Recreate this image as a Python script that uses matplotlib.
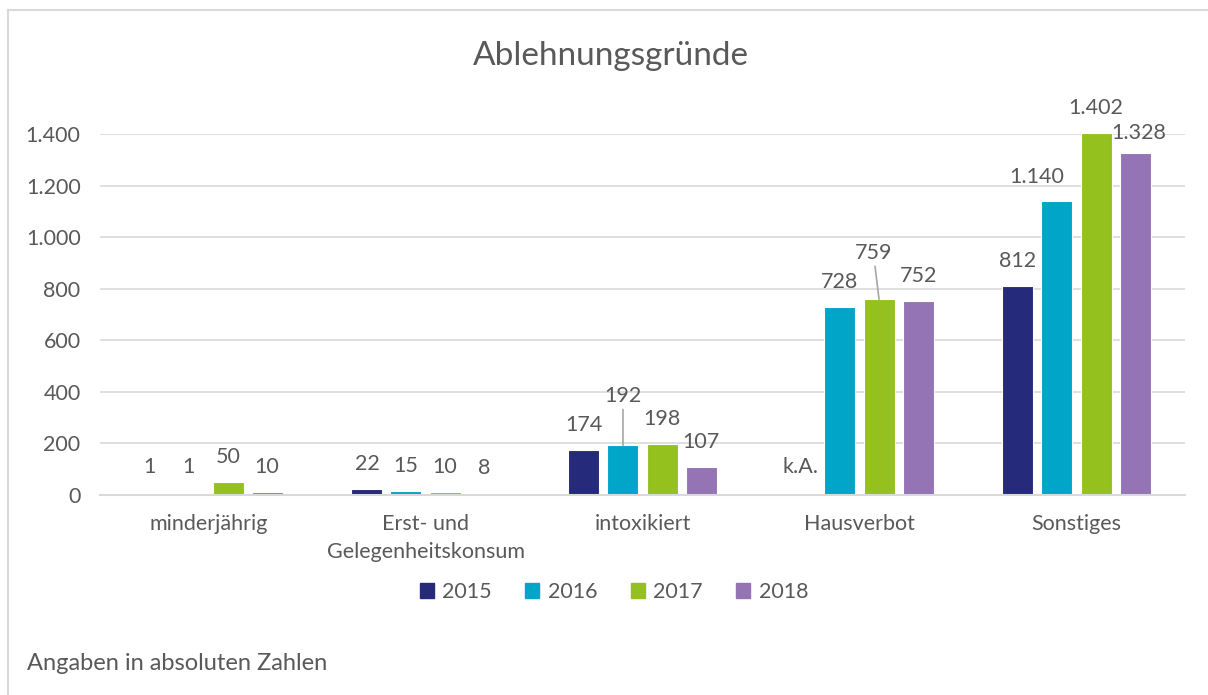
import matplotlib.pyplot as plt
from matplotlib.lines import Line2D
import numpy as np

plt.rcParams['font.family'] = ['Lato', 'DejaVu Sans']

# data
categories = ['minderjährig', 'Erst- und\nGelegenheitskonsum', 'intoxikiert', 'Hausverbot', 'Sonstiges']
years = ['2015', '2016', '2017', '2018']
v2015 = [1, 22, 174, np.nan, 812]
v2016 = [1, 15, 192, 728, 1140]
v2017 = [50, 10, 198, 759, 1402]
v2018 = [10, 8, 107, 752, 1328]
colors = ['#252A7A', '#00A5C8', '#95C11F', '#9474B4']
yticks = [0, 200, 400, 600, 800, 1000, 1200, 1400]

series = [v2015, v2016, v2017, v2018]

txt = '#595959'
fs = 15.5
fig = plt.figure(figsize=(12.08, 6.95), dpi=100)
ax = fig.add_axes([100/1208, 200/695, 1085/1208, 361/695])

x = np.arange(len(categories))
pitch = 0.18
width = 0.143

# label offsets (px) that Excel moved by hand
moved = {(1, 2): (0, 49), (2, 3): (-5, 46), (3, 4): (4, 20), (1, 4): (-20, 24)}
leaders = [(1, 2), (2, 3)]

for i, (vals, col) in enumerate(zip(series, colors)):
    xs = x + (i - 1.5) * pitch
    h = np.nan_to_num(vals)
    ax.bar(xs, h, width=width, color=col, edgecolor='white', linewidth=0.8, zorder=3)
    for j, v in enumerate(vals):
        dx, dy = moved.get((i, j), (0, 25))
        if np.isnan(v):
            lab = 'k.A.'
            dy = 28
        else:
            lab = f'{int(v):,}'.replace(',', '.')
            if v < 5:
                dy = 28
        ax.annotate(lab, (xs[j], h[j]), xytext=(dx * 0.72, dy * 0.72),
                    textcoords='offset points', ha='center', va='center',
                    fontsize=fs, color=txt, annotation_clip=False)
        if (i, j) in leaders:
            ax.annotate('', (xs[j], h[j]), xytext=(dx * 0.72 * 0.8, (dy - 13) * 0.72),
                        textcoords='offset points',
                        arrowprops=dict(arrowstyle='-', color='#A6A6A6', lw=1.2,
                                        shrinkA=0, shrinkB=0))

ax.set_xlim(-0.5, len(categories) - 0.5)
ax.set_ylim(0, 1400)
ax.set_yticks(yticks)
ax.set_yticklabels([f'{t:,}'.replace(',', '.') for t in yticks])
ax.set_xticks(x)
ax.set_xticklabels(categories, linespacing=1.45)
ax.tick_params(axis='y', length=0, pad=14, labelsize=fs, labelcolor=txt)
ax.tick_params(axis='x', length=0, pad=14, labelsize=fs, labelcolor=txt)
ax.grid(axis='y', color='#D9D9D9', lw=1.2, zorder=0)
for s in ['top', 'right', 'left']:
    ax.spines[s].set_visible(False)
ax.spines['bottom'].set_color('#D9D9D9')
ax.spines['bottom'].set_linewidth(1.5)
ax.spines['bottom'].set_zorder(4)

fig.text(611/1208, 1 - 56/695, 'Ablehnungsgründe', ha='center', va='center',
         fontsize=24, color=txt)

handles = [plt.Rectangle((0, 0), 1, 1, color=c) for c in colors]
fig.legend(handles, years, loc='center', bbox_to_anchor=(614/1208, 1 - 592/695),
           ncol=4, frameon=False, fontsize=fs, labelcolor=txt,
           handlelength=0.65, handleheight=0.65, handletextpad=0.4, columnspacing=1.55)

fig.text(27/1208, 1 - 664/695, 'Angaben in absoluten Zahlen', ha='left', va='center',
         fontsize=17, color=txt)

# chart border (top and left visible)
fig.add_artist(Line2D([8/1208, 8/1208], [0, 1 - 10/695], color='#D9D9D9', lw=1.5,
                      transform=fig.transFigure))
fig.add_artist(Line2D([8/1208, 1], [1 - 10/695, 1 - 10/695], color='#D9D9D9', lw=1.5,
                      transform=fig.transFigure))

fig.savefig('out.png', dpi=100)
